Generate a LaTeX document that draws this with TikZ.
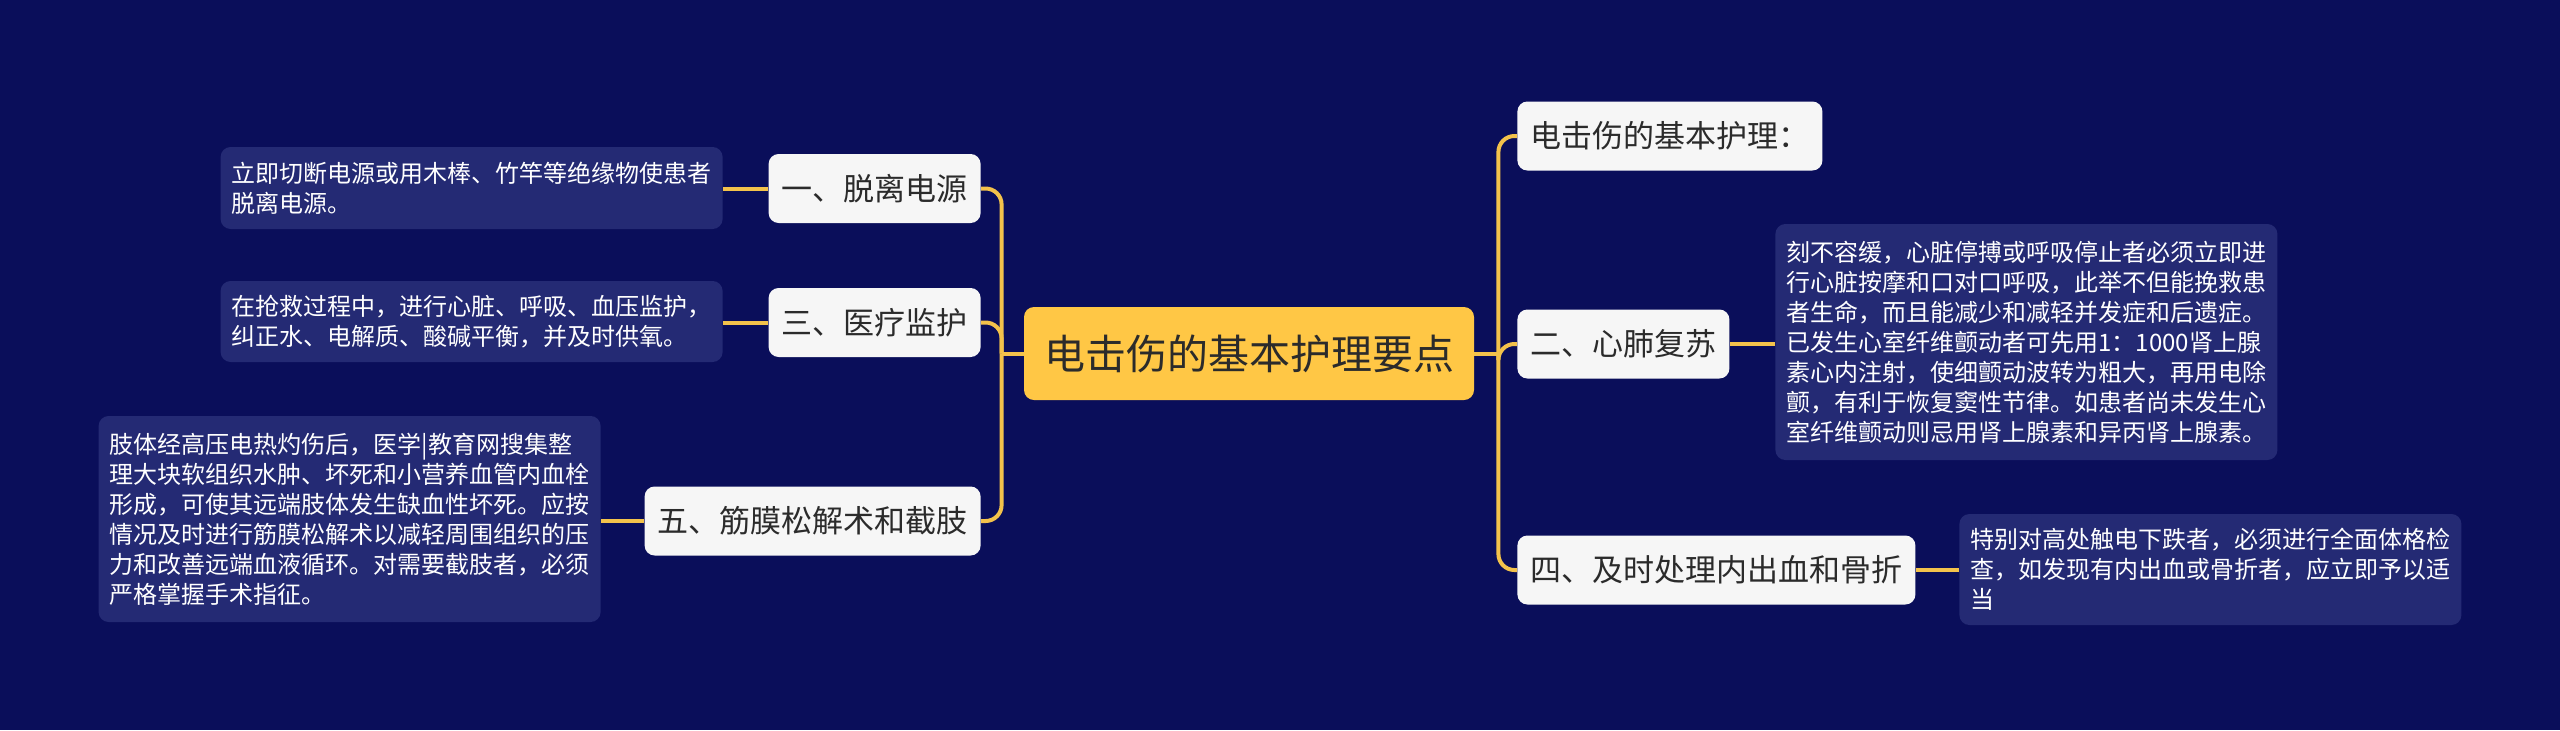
\documentclass[tikz,border=0pt]{standalone}
\usepackage{fontspec}
\newfontfamily\cjk{Noto Sans CJK SC}
\usetikzlibrary{calc}

\definecolor{bgnavy}{HTML}{0A0E5A}
\definecolor{boxnavy}{HTML}{242A74}
\definecolor{rootyellow}{HTML}{FFC745}
\definecolor{linkyellow}{HTML}{F3C24B}
\definecolor{nodewhite}{HTML}{F6F6F6}
\definecolor{textgray}{HTML}{2B2B2B}

\begin{document}
\begin{tikzpicture}[x=0.5pt, y=-0.5pt,
	rootbox/.style={rectangle, rounded corners=5pt, fill=rootyellow, text=textgray, font=\cjk\fontsize{20.5}{24}\selectfont, minimum height=46.5pt, inner xsep=10pt},
	topicbox/.style={rectangle, rounded corners=5pt, fill=nodewhite, text=textgray, font=\cjk\fontsize{15.5}{18}\selectfont, minimum height=34.5pt, inner xsep=6.5pt},
	notebox/.style={rectangle, rounded corners=5pt, fill=boxnavy, text=white, font=\cjk\fontsize{12}{15}\selectfont, align=left, inner xsep=5.5pt, inner ysep=4pt},
	link/.style={linkyellow, line width=2pt, rounded corners=8pt}]

	% background, fixes the page size
	\fill[bgnavy] (0,0) rectangle (2560,730);

	% central topic
	\node[rootbox] (root) at (1249,353.5) {电击伤的基本护理要点};

	% left branches
	\node[topicbox, anchor=east] (t1) at (981,188.5) {一、脱离电源};
	\node[topicbox, anchor=east] (t3) at (981,322.5) {三、医疗监护};
	\node[topicbox, anchor=east] (t5) at (981,521) {五、筋膜松解术和截肢};

	\node[notebox, anchor=east, minimum height=41pt] (n1) at (723,188) {立即切断电源或用木棒、竹竿等绝缘物使患者\\脱离电源。};
	\node[notebox, anchor=east, minimum height=40.5pt] (n3) at (723,321.5) {在抢救过程中，进行心脏、呼吸、血压监护，\\纠正水、电解质、酸碱平衡，并及时供氧。};
	\node[notebox, anchor=east, minimum height=103pt] (n5) at (601,519) {肢体经高压电热灼伤后，医学|教育网搜集整\\理大块软组织水肿、坏死和小营养血管内血栓\\形成，可使其远端肢体发生缺血性坏死。应按\\情况及时进行筋膜松解术以减轻周围组织的压\\力和改善远端血液循环。对需要截肢者，必须\\严格掌握手术指征。};

	% right branches
	\node[topicbox, anchor=west] (t0) at (1517,136) {电击伤的基本护理：};
	\node[topicbox, anchor=west] (t2) at (1517,344) {二、心肺复苏};
	\node[topicbox, anchor=west] (t4) at (1517,570) {四、及时处理内出血和骨折};

	\node[notebox, anchor=west, minimum height=118pt] (n2) at (1775,342) {刻不容缓，心脏停搏或呼吸停止者必须立即进\\行心脏按摩和口对口呼吸，此举不但能挽救患\\者生命，而且能减少和减轻并发症和后遗症。\\已发生心室纤维颤动者可先用1：1000肾上腺\\素心内注射，使细颤动波转为粗大，再用电除\\颤，有利于恢复窦性节律。如患者尚未发生心\\室纤维颤动则忌用肾上腺素和异丙肾上腺素。};
	\node[notebox, anchor=west, minimum height=55.5pt] (n4) at (1959,569.5) {特别对高处触电下跌者，必须进行全面体格检\\查，如发现有内出血或骨折者，应立即予以适\\当};

	% connectors
	\coordinate (lj) at ([xshift=-11pt]root.west);
	\coordinate (rj) at ([xshift=12pt]root.east);
	\draw[link] (root.west) -- (lj);
	\draw[link] (root.east) -- (rj);
	\foreach \t in {t1,t3,t5}
		\draw[link] (lj) |- (\t.east);
	\foreach \t in {t0,t2,t4}
		\draw[link] (rj) |- (\t.west);
	\foreach \t/\n in {t1/n1,t3/n3,t5/n5}
		\draw[link] (\t.west) -- (\t.west -| \n.east);
	\foreach \t/\n in {t2/n2,t4/n4}
		\draw[link] (\t.east) -- (\t.east -| \n.west);

\end{tikzpicture}
\end{document}
